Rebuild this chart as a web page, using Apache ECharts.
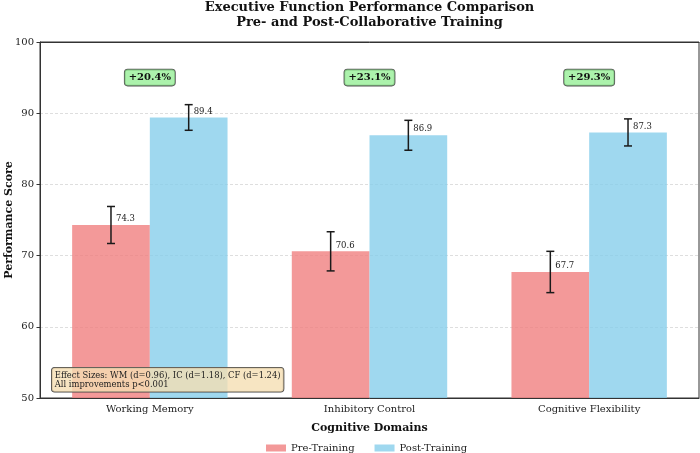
<!DOCTYPE html>
<html>
<head>
<meta charset="utf-8">
<script src="https://cdn.jsdelivr.net/npm/echarts@6/dist/echarts.min.js"></script>
<style>html,body{margin:0;padding:0;background:#fff;}#c{width:700px;height:453px;}</style>
</head>
<body>
<div id="c"></div>
<script>
const categories = ['Working Memory', 'Inhibitory Control', 'Cognitive Flexibility'];
const preValues = [74.3, 70.6, 67.7];
const postValues = [89.4, 86.9, 87.3];
const preErrors = [2.6, 2.75, 2.9];
const postErrors = [1.8, 2.1, 1.9];
const improvementLabels = ['+20.4%', '+23.1%', '+29.3%'];
const improvementY = [95, 95, 95];
const yTicks = [50, 60, 70, 80, 90, 100];

const FONT = 'DejaVu Serif';
const BAR_W = 77.7;

const chart = echarts.init(document.getElementById('c'), null, {renderer: 'canvas'});

function errSeries(name, values, errs, sign) {
  return {
    type: 'custom',
    name: name + '_err',
    silent: true,
    z: 5,
    data: values.map((v, i) => [i, v, errs[i]]),
    renderItem: function (params, api) {
      const i = api.value(0), v = api.value(1), e = api.value(2);
      const base = api.coord([i, v]);
      const cx = base[0] + sign * BAR_W / 2;
      const top = api.coord([i, v + e])[1];
      const bot = api.coord([i, v - e])[1];
      const cap = 4;
      const st = {stroke: '#1a1a1a', lineWidth: 1.5};
      return {
        type: 'group',
        children: [
          {type: 'line', shape: {x1: cx, y1: top, x2: cx, y2: bot}, style: st},
          {type: 'line', shape: {x1: cx - cap, y1: top, x2: cx + cap, y2: top}, style: st},
          {type: 'line', shape: {x1: cx - cap, y1: bot, x2: cx + cap, y2: bot}, style: st},
          {type: 'text', x: cx + 5, y: base[1] - 6,
           style: {text: v.toFixed(1), fill: '#222', font: '8.5px "' + FONT + '"',
                   textAlign: 'left', textVerticalAlign: 'middle'}}
        ]
      };
    }
  };
}

const option = {
  animation: false,
  title: {
    text: 'Executive Function Performance Comparison\nPre- and Post-Collaborative Training',
    left: 369.5,
    top: 0,
    padding: 0,
    textAlign: 'center',
    textStyle: {fontFamily: FONT, fontWeight: 'bold', fontSize: 13, lineHeight: 15, color: '#111'}
  },
  legend: {
    data: ['Pre-Training', 'Post-Training'],
    left: 266,
    top: 443,
    padding: 0,
    itemWidth: 20,
    itemHeight: 7,
    itemGap: 20,
    icon: 'rect',
    textStyle: {fontFamily: FONT, fontSize: 10, color: '#222'}
  },
  grid: {
    left: 40, right: 1, top: 42, bottom: 55,
    outerBoundsMode: 'none',
    containLabel: false,
    show: true, borderColor: '#333', borderWidth: 1, backgroundColor: 'transparent'
  },
  xAxis: [
    {
      type: 'category',
      data: categories,
      name: 'Cognitive Domains',
      nameLocation: 'middle',
      nameGap: 25,
      nameTextStyle: {fontFamily: FONT, fontWeight: 'bold', fontSize: 11, color: '#111'},
      axisLine: {lineStyle: {color: '#333', width: 1}},
      axisTick: {alignWithLabel: true, length: 3.5, lineStyle: {color: '#333'}},
      axisLabel: {fontFamily: FONT, fontSize: 10, color: '#222', margin: 6},
      splitLine: {show: false}
    },
    {
      type: 'category',
      data: categories,
      position: 'top',
      z: 3,
      axisLine: {show: true, lineStyle: {color: '#333', width: 1}},
      axisTick: {show: false},
      axisLabel: {show: false},
      splitLine: {show: false}
    }
  ],
  yAxis: {
    type: 'value',
    min: 50, max: 100, interval: 10,
    axisLine: {show: true, lineStyle: {color: '#333', width: 1}},
    axisTick: {show: true, length: 3.5, lineStyle: {color: '#333'}},
    axisLabel: {fontFamily: FONT, fontSize: 10, color: '#222', margin: 6,
      formatter: v => yTicks.includes(v) ? String(v) : ''},
    splitLine: {show: true, lineStyle: {color: '#d6d6d6', type: [3, 2], width: 0.8}}
  },
  series: [
    {
      name: 'Pre-Training', type: 'bar', data: preValues,
      barWidth: BAR_W, barGap: '0%',
      itemStyle: {color: '#F08080', opacity: 0.8}
    },
    {
      name: 'Post-Training', type: 'bar', data: postValues,
      barWidth: BAR_W, barGap: '0%',
      itemStyle: {color: '#87CEEB', opacity: 0.8}
    },
    errSeries('Pre-Training', preValues, preErrors, -1),
    errSeries('Post-Training', postValues, postErrors, 1),
    {
      type: 'custom',
      name: 'improvement',
      silent: true,
      z: 6,
      data: improvementY.map((v, i) => [i, v]),
      renderItem: function (params, api) {
        const p = api.coord([api.value(0), api.value(1)]);
        return {
          type: 'text', x: p[0], y: p[1],
          style: {
            text: improvementLabels[params.dataIndex],
            font: 'bold 10px "' + FONT + '"', fill: '#111',
            textAlign: 'center', textVerticalAlign: 'middle',
            backgroundColor: 'rgba(144,238,144,0.75)',
            borderColor: '#555', borderWidth: 0.8, borderRadius: 3,
            padding: [3, 4, 3, 4]
          }
        };
      }
    }
  ],
  graphic: [
    {
      type: 'text',
      x: 9, y: 220,
      rotation: Math.PI / 2,
      style: {
        text: 'Performance Score',
        font: 'bold 11px "' + FONT + '"', fill: '#111',
        textAlign: 'center', textVerticalAlign: 'middle'
      }
    },
    {
      type: 'text',
      left: 51, top: 367,
      z: 10,
      style: {
        text: 'Effect Sizes: WM (d=0.96), IC (d=1.18), CF (d=1.24)\nAll improvements p<0.001',
        font: '8.4px "' + FONT + '"', fill: '#222', lineHeight: 9.5,
        backgroundColor: 'rgba(245,222,179,0.8)',
        borderColor: '#444', borderWidth: 0.8, borderRadius: 3,
        padding: [3, 3, 2, 3]
      }
    }
  ]
};
chart.setOption(option);
</script>
</body>
</html>
